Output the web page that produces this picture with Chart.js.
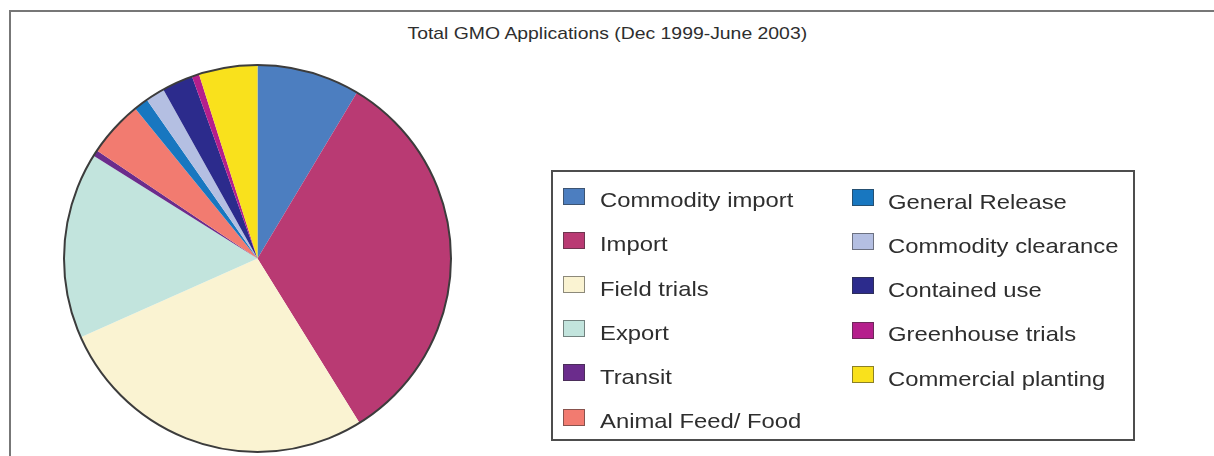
<!DOCTYPE html>
<html>
<head>
<meta charset="utf-8">
<script src="https://cdn.jsdelivr.net/npm/chart.js@4"></script>
<style>
  body { margin: 0; width: 1214px; height: 456px; overflow: hidden; background: #fff; font-family: 'Liberation Sans', Arial, sans-serif; }
  #frame { position: absolute; left: 9px; top: 10px; width: 1400px; height: 600px; border: 2px solid #777; }
  #wrap { position: absolute; left: 0; top: 0; width: 1214px; height: 456px; }
  #title { position: absolute; left: 0; top: 25px; width: 1214px; text-align: center; font-size: 17px; line-height: 17px; color: #2e2e2e; }
  #title span { display: inline-block; transform: scaleX(1.14); white-space: nowrap; }
  #legend { position: absolute; left: 551px; top: 170px; width: 580px; height: 267px; border: 2px solid #4d4d4d; }
  .sw { position: absolute; width: 20px; height: 15px; border: 1px solid rgba(50,50,50,0.55); }
  .lbl { position: absolute; font-size: 21px; line-height: 21px; color: #2e2e2e; white-space: nowrap; transform: scaleX(1.135); transform-origin: left center; }
</style>
</head>
<body>
<div id="frame"></div>
<div id="title"><span>Total GMO Applications (Dec 1999-June 2003)</span></div>
<div id="wrap"><canvas id="pie"></canvas></div>
<div id="legend"></div>
<script>
// categories in drawing order (clockwise from 12 o'clock)
const categories = [
  'Commodity import', 'Import', 'Field trials', 'Export', 'Transit',
  'Animal Feed/ Food', 'General Release', 'Commodity clearance',
  'Contained use', 'Greenhouse trials', 'Commercial planting'
];
// share of applications, %
const shares = [8.6, 32.6, 27.2, 15.6, 0.5, 4.7, 1.2, 1.6, 2.6, 0.6, 4.9];
const colours = [
  '#4c7ec0', '#b93a73', '#faf3d2', '#c2e4dd', '#6b2c8c',
  '#f27b70', '#1877c0', '#b4bfe2', '#2c2b8c', '#b51f8c', '#f9e11c'
];

// dark rim round the pie only
const rimPlugin = {
  id: 'rim',
  afterDatasetsDraw(chart) {
    const arc = chart.getDatasetMeta(0).data[0];
    if (!arc) return;
    const c = chart.ctx;
    c.save();
    c.beginPath();
    c.arc(arc.x, arc.y, arc.outerRadius, 0, Math.PI * 2);
    c.lineWidth = 2;
    c.strokeStyle = '#3c3c3c';
    c.stroke();
    c.restore();
  }
};

new Chart(document.getElementById('pie'), {
  type: 'pie',
  data: {
    labels: categories,
    datasets: [{
      data: shares,
      backgroundColor: colours,
      borderWidth: 0
    }]
  },
  options: {
    responsive: true,
    maintainAspectRatio: false,
    animation: false,
    layout: { padding: { left: 64, right: 763, top: 65, bottom: 4 } },
    plugins: {
      legend: { display: false },
      title: { display: false },
      tooltip: { enabled: false }
    }
  },
  plugins: [rimPlugin]
});

// legend in two columns: 6 then 5
const legend = document.getElementById('legend');
const boxLeft = 553, boxTop = 172; // inner origin of legend box
categories.forEach((name, i) => {
  const col = i < 6 ? 0 : 1;
  const row = col === 0 ? i : i - 6;
  const swX = col === 0 ? 563 : 852;
  const txX = col === 0 ? 600 : 888;
  const swY = (col === 0 ? 187.5 : 189) + row * 44.2;
  const baseY = (col === 0 ? 207 : 208.5) + row * 44.2;
  const sw = document.createElement('div');
  sw.className = 'sw';
  sw.style.left = (swX - boxLeft) + 'px';
  sw.style.top = (swY - boxTop) + 'px';
  sw.style.background = colours[i];
  legend.appendChild(sw);
  const t = document.createElement('div');
  t.className = 'lbl';
  t.textContent = name;
  t.style.left = (txX - boxLeft) + 'px';
  t.style.top = (baseY - 17.75 - boxTop) + 'px';
  legend.appendChild(t);
});
</script>
</body>
</html>
